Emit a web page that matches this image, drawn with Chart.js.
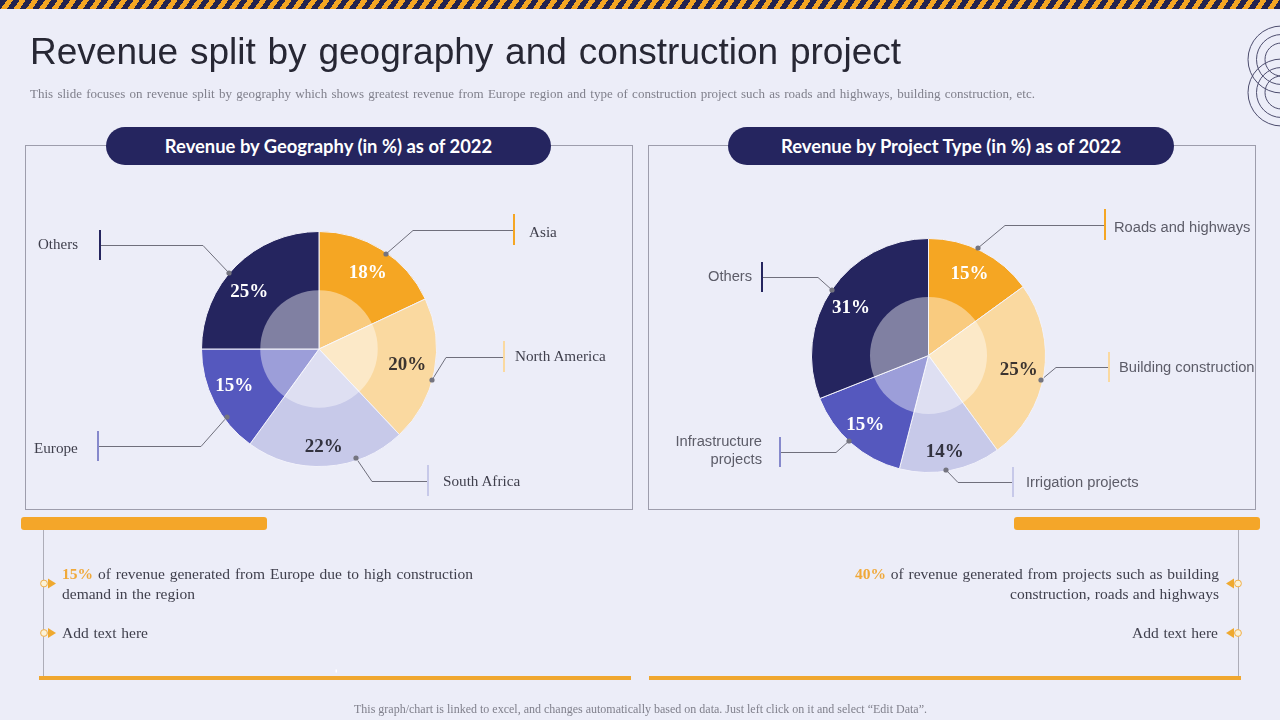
<!DOCTYPE html>
<html>
<head>
<meta charset="utf-8">
<script src="https://cdn.jsdelivr.net/npm/chart.js@4/dist/chart.umd.min.js"></script>
<style>
html,body{margin:0;padding:0;background:#ECEDF8;}
#page{position:relative;width:1280px;height:720px;overflow:hidden;background:#ECEDF8;}
#stripe{position:absolute;left:0;top:0;width:1280px;height:9px;
 background:repeating-linear-gradient(-56deg,#23234f 0 5.5px,#F5A623 5.5px 10.5px);}
svg{position:absolute;left:0;top:0;}
canvas{position:absolute;}
.t{position:absolute;white-space:nowrap;line-height:1;transform:translateY(-50%);}
.r{transform:translate(-100%,-50%);}
.serif{font-family:"Liberation Serif",serif;}
.sans{font-family:"Liberation Sans",sans-serif;}
.pill{position:absolute;top:127px;height:38px;border-radius:19px;background:#25255F;color:#fff;
 font:700 18.4px/38px Lato,sans-serif;text-align:center;}
.bar{position:absolute;top:517px;width:246px;height:13px;border-radius:3px;background:#F4A629;}
b.o{color:#F0A93A;font-weight:700;}
</style>
</head>
<body>
<div id="page">
<div id="stripe"></div>
<svg id="deco" width="1280" height="720"></svg>
<canvas id="geo"></canvas>
<canvas id="proj"></canvas>
<div class="pill" style="left:106px;width:445px">Revenue by Geography (in %) as of 2022</div>
<div class="pill" style="left:728px;width:446px">Revenue by Project Type (in %) as of 2022</div>
<div class="bar" style="left:21px"></div>
<div class="bar" style="left:1014px"></div>
</div>
<script>
// ---- chart data ----
const geoCategories = ["Asia", "North America", "South Africa", "Europe", "Others"];
const geoValues = [18, 20, 22, 15, 25];
const projectCategories = ["Roads and highways", "Building construction", "Irrigation projects", "Infrastructure projects", "Others"];
const projectValues = [15, 25, 14, 15, 31];
const sliceColors = ["#F5A623", "#FAD9A0", "#C7C9E9", "#5558BE", "#25255F"];
const tickColors = ["#F5A623", "#FAD9A0", "#C7C9E9", "#8689CC", "#25255F"];
const labelColors = ["#ffffff", "#3b3430", "#32323f", "#ffffff", "#ffffff"];
// small per-slice nudges of the percent labels, relative to their slice
const geoLabelNudge = [[-1,2],[-3,-1],[-1,5],[-2,-5],[-4,9]];
const projectLabelNudge = [[-1,1],[-1,0],[-1,6],[-2,0],[-1,5]];

const page = document.getElementById('page');

// white translucent disc + percent labels, both taken from the arcs
const piePlugin = {
  id: 'piePlugin',
  afterDatasetsDraw(chart, args, opts) {
    const ctx = chart.ctx, arcs = chart.getDatasetMeta(0).data;
    const a0 = arcs[0];
    ctx.save();
    ctx.fillStyle = 'rgba(255,255,255,0.42)';
    ctx.beginPath();
    ctx.arc(a0.x, a0.y, a0.outerRadius * 0.5, 0, Math.PI * 2);
    ctx.fill();
    ctx.font = '700 19px "Liberation Serif"';
    ctx.textAlign = 'center';
    ctx.textBaseline = 'middle';
    const vals = chart.data.datasets[0].data;
    arcs.forEach((a, i) => {
      const mid = (a.startAngle + a.endAngle) / 2, r = a.outerRadius * 0.79;
      ctx.fillStyle = labelColors[i];
      ctx.fillText(vals[i] + '%', a.x + Math.cos(mid) * r + opts.nudge[i][0], a.y + Math.sin(mid) * r + opts.nudge[i][1]);
    });
    ctx.restore();
  }
};

function makePie(id, cats, vals, cx, cy, radius, nudge) {
  const size = radius * 2 + 1, el = document.getElementById(id);
  el.style.left = (cx - size / 2) + 'px';
  el.style.top = (cy - size / 2) + 'px';
  el.style.width = size + 'px';
  el.style.height = size + 'px';
  el.width = size; el.height = size;
  new Chart(el, {
    type: 'pie',
    data: { labels: cats, datasets: [{ data: vals, backgroundColor: sliceColors, borderColor: '#F1F1FA', borderWidth: 1 }] },
    options: {
      responsive: false, animation: false,
      plugins: { legend: { display: false }, tooltip: { enabled: false }, piePlugin: { nudge } }
    },
    plugins: [piePlugin]
  });
}
makePie('geo', geoCategories, geoValues, 319, 349, 117.5, geoLabelNudge);
makePie('proj', projectCategories, projectValues, 928.5, 355.5, 117, projectLabelNudge);

// ---- decoration ----
const svg = document.getElementById('deco');
function add(tag, attrs, parent) {
  const e = document.createElementNS('http://www.w3.org/2000/svg', tag);
  for (const k in attrs) e.setAttribute(k, attrs[k]);
  (parent || svg).appendChild(e); return e;
}
// rings
[[1281.5, 59.5], [1281.5, 92.5]].forEach(c => [33.5, 25, 16.5].forEach(r =>
  add('circle', { cx: c[0], cy: c[1], r, fill: 'none', stroke: '#4d4d6e', 'stroke-width': 1 })));
// frames
add('rect', { x: 25.5, y: 145.5, width: 607, height: 364, fill: 'none', stroke: '#9d9dac' });
add('rect', { x: 648.5, y: 145.5, width: 607, height: 364, fill: 'none', stroke: '#9d9dac' });
// leaders: dot, elbow, tick end, tick span, colour index
const leaders = [
  [[386,254],[413,230],[514,230],[214,245],0],
  [[432,380],[446,357],[504,357],[341,372],1],
  [[356,458],[372,481],[428,481],[465,496],2],
  [[227,417],[201,446],[98,446],[431,461],3],
  [[229,273],[203,245],[100,245],[230,260],4],
  [[978,248],[1005,225],[1105,225],[209,240],0],
  [[1041,380],[1056,367],[1109,367],[352,382],1],
  [[946,470],[958,482],[1013,482],[467,497],2],
  [[849,441],[836,452],[780,452],[437,467],3],
  [[832,290],[818,277],[762,277],[262,292],4]
];
leaders.forEach(l => {
  const [d, e, t, span, c] = l;
  add('polyline', { points: `${d} ${e[0]},${e[1]+.5} ${t[0]},${t[1]+.5}`, fill: 'none', stroke: '#6f6f7c', 'stroke-width': 1 });
  add('line', { x1: t[0], x2: t[0], y1: span[0], y2: span[1], stroke: tickColors[c], 'stroke-width': 2 });
});
// rails
add('line', { x1: 43.5, x2: 43.5, y1: 530, y2: 677, stroke: '#adadb8' });
add('line', { x1: 1238.5, x2: 1238.5, y1: 530, y2: 677, stroke: '#adadb8' });
add('rect', { x: 39, y: 676, width: 592, height: 4, fill: '#F0A72F' });
add('rect', { x: 649, y: 676, width: 592, height: 4, fill: '#F0A72F' });
add('rect', { x: 335.5, y: 669.5, width: 1.5, height: 3, fill: '#ffffff' });
// bullets
[[44, 583.5, 1], [44, 633, 1], [1238, 583.5, -1], [1238, 633, -1]].forEach(([x, y, s]) => {
  add('path', { d: `M${x + s*4} ${y-5}L${x + s*12} ${y}L${x + s*4} ${y+5}Z`, fill: '#EFA92F' });
  add('circle', { cx: x, cy: y, r: 3.4, fill: '#FBF2D8', stroke: '#F0B04A', 'stroke-width': 1 });
});
// dots on top of the charts
const dotSvg = svg.cloneNode(false); dotSvg.id = 'dots'; page.appendChild(dotSvg);
leaders.forEach(l => add('circle', { cx: l[0][0], cy: l[0][1], r: 2.6, fill: '#74747f' }, dotSvg));

// ---- text ----
function text(html, x, y, size, color, cls, width) {
  const s = document.createElement('div');
  s.className = 't ' + cls;
  s.style.cssText = `left:${x}px;top:${y}px;font-size:${size}px;color:${color}`;
  s.innerHTML = html;
  page.appendChild(s);
  if (width) {
    const spaces = (s.textContent.match(/ /g) || []).length;
    const extra = (width - s.getBoundingClientRect().width) / spaces;
    s.style.wordSpacing = extra + 'px';
  }
  return s;
}
const INK = '#3f3f4c', GREY = '#80808c', SANSGREY = '#5c5c68';
text('Revenue split by geography and construction project', 30, 50.5, 37, '#272734', 'sans', 871);
text('This slide focuses on revenue split by geography which shows greatest revenue from Europe region and type of construction project such as roads and highways, building construction, etc.', 30, 92.5, 13, GREY, 'serif', 1005);
text('Asia', 529, 232, 15.2, INK, 'serif');
text('North America', 515, 356, 15.2, INK, 'serif');
text('South Africa', 443, 481, 15.2, INK, 'serif');
text('Europe', 34, 448, 15.2, INK, 'serif');
text('Others', 38, 244, 15, INK, 'serif');
text('Roads and highways', 1114, 227, 14.7, SANSGREY, 'sans');
text('Building construction', 1119, 367, 14.7, SANSGREY, 'sans');
text('Irrigation projects', 1026, 482, 14.7, SANSGREY, 'sans');
text('Infrastructure', 762, 441, 14.7, SANSGREY, 'sans r');
text('projects', 762, 459, 14.7, SANSGREY, 'sans r');
text('Others', 708, 276, 14.7, SANSGREY, 'sans');
text('<b class="o">15%</b> of revenue generated from Europe due to high construction', 62, 574, 15.5, INK, 'serif', 411);
text('demand in the region', 62, 594, 15.5, INK, 'serif', 133);
text('Add text here', 62, 633, 15.5, INK, 'serif', 86);
text('<b class="o">40%</b> of revenue generated from projects such as building', 855, 574, 15.5, INK, 'serif', 364);
text('construction, roads and highways', 1010, 594, 15.5, INK, 'serif', 209);
text('Add text here', 1132, 633, 15.5, INK, 'serif', 86);
text('This graph/chart is linked to excel, and changes automatically based on data. Just left click on it and select “Edit Data”.', 354, 709, 12, GREY, 'serif', 573);
</script>
</body>
</html>
